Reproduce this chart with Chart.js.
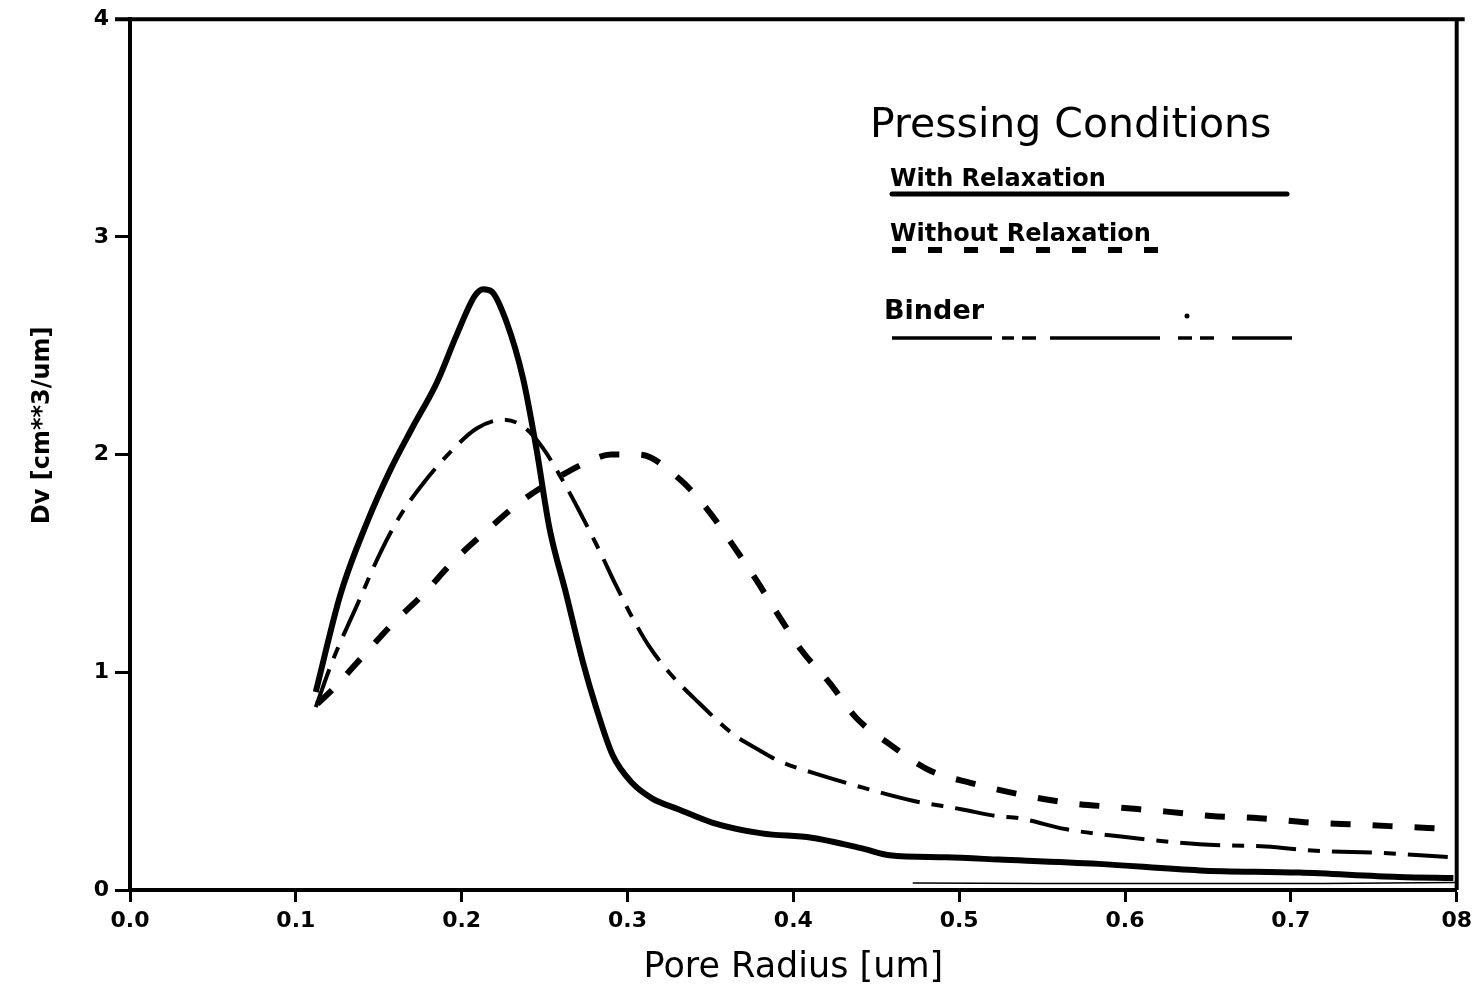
<!DOCTYPE html>
<html>
<head>
<meta charset="utf-8">
<script src="https://cdn.jsdelivr.net/npm/chart.js@4.4.0/dist/chart.umd.min.js"></script>
<style>
  body { margin: 0; background: #fff; }
  #wrap { width: 1478px; height: 993px; }
</style>
</head>
<body>
<div id="wrap"><canvas id="myChart" width="1478" height="993"></canvas></div>
<script>
// values
const xTickLabels = ['0.0', '0.1', '0.2', '0.3', '0.4', '0.5', '0.6', '0.7', '08'];
const yTickLabels = ['0', '1', '2', '3', '4'];

const withX = [0.112, 0.127, 0.143, 0.157, 0.170, 0.185, 0.197, 0.208, 0.213, 0.218, 0.227, 0.237, 0.245, 0.253, 0.263, 0.273, 0.281, 0.291, 0.303, 0.315, 0.331, 0.351, 0.381, 0.411, 0.442, 0.458, 0.492, 0.524, 0.584, 0.645, 0.705, 0.765, 0.798];
const withY = [0.91, 1.36, 1.69, 1.93, 2.12, 2.33, 2.55, 2.73, 2.76, 2.75, 2.61, 2.35, 2.03, 1.66, 1.36, 1.05, 0.84, 0.62, 0.49, 0.42, 0.37, 0.31, 0.26, 0.24, 0.19, 0.16, 0.15, 0.14, 0.12, 0.09, 0.08, 0.06, 0.055];

const withoutX = [0.113, 0.122, 0.140, 0.158, 0.177, 0.195, 0.215, 0.235, 0.257, 0.277, 0.290, 0.307, 0.331, 0.348, 0.363, 0.378, 0.392, 0.405, 0.422, 0.438, 0.458, 0.482, 0.508, 0.536, 0.566, 0.595, 0.625, 0.652, 0.681, 0.711, 0.741, 0.769, 0.797];
const withoutY = [0.855, 0.92, 1.07, 1.22, 1.36, 1.51, 1.65, 1.78, 1.89, 1.97, 2.0, 2.0, 1.89, 1.75, 1.59, 1.42, 1.25, 1.10, 0.95, 0.79, 0.67, 0.55, 0.49, 0.44, 0.40, 0.38, 0.36, 0.34, 0.33, 0.31, 0.30, 0.29, 0.28];

const binderX = [0.112, 0.122, 0.137, 0.151, 0.163, 0.177, 0.193, 0.209, 0.225, 0.237, 0.249, 0.261, 0.271, 0.283, 0.293, 0.303, 0.313, 0.325, 0.343, 0.363, 0.380, 0.392, 0.411, 0.442, 0.472, 0.502, 0.522, 0.536, 0.564, 0.604, 0.645, 0.685, 0.715, 0.755, 0.797];
const binderY = [0.84, 1.05, 1.31, 1.55, 1.72, 1.87, 2.01, 2.12, 2.16, 2.13, 2.03, 1.88, 1.74, 1.56, 1.40, 1.25, 1.12, 1.00, 0.86, 0.72, 0.64, 0.59, 0.54, 0.47, 0.41, 0.37, 0.34, 0.33, 0.28, 0.24, 0.21, 0.20, 0.18, 0.17, 0.15];

// faint trace lying just above the x axis on the right
const traceX = [0.472, 0.55, 0.65, 0.72, 0.8];
const traceY = [0.032, 0.03, 0.03, 0.03, 0.035];

const pts = (xs, ys) => xs.map((x, i) => ({ x: x, y: ys[i] }));

const FONT = "'DejaVu Sans', sans-serif";

const legendPlugin = {
  id: 'pressLegend',
  afterDraw(chart) {
    const ctx = chart.ctx;
    const a = chart.chartArea;
    ctx.save();
    // frame: top and right edges
    ctx.strokeStyle = '#000';
    ctx.lineWidth = 4;
    ctx.beginPath();
    ctx.moveTo(a.left - 15, a.top);
    ctx.lineTo(a.right + 8, a.top);
    ctx.moveTo(a.right, a.top);
    ctx.lineTo(a.right, a.bottom);
    ctx.stroke();

    ctx.fillStyle = '#000';
    ctx.textBaseline = 'alphabetic';
    ctx.font = '41px ' + FONT;
    ctx.fillText('Pressing Conditions', 870, 137);

    const ds = chart.data.datasets;
    const rows = [
      { text: ds[0].label, size: 24, ty: 186, ly: 194, x2: 1287, w: 5, dash: [] },
      { text: ds[1].label, size: 24, ty: 241, ly: 250, x2: 1158, w: 6, dash: [14, 22] },
      { text: ds[2].label, size: 27, ty: 319, ly: 338, x2: 1293, w: 3.5, dash: [100, 10, 12, 8, 14, 14, 110, 18, 14, 8, 14, 18, 60] }
    ];
    rows.forEach(r => {
      ctx.font = 'bold ' + r.size + 'px ' + FONT;
      ctx.fillText(r.text, r.text === 'Binder' ? 884 : 890, r.ty);
      ctx.lineWidth = r.w;
      ctx.setLineDash(r.dash);
      ctx.lineCap = r.dash.length ? 'butt' : 'round';
      ctx.beginPath();
      ctx.moveTo(892, r.ly);
      ctx.lineTo(r.x2, r.ly);
      ctx.stroke();
    });
    ctx.setLineDash([]);
    ctx.beginPath();
    ctx.arc(1187, 316, 2.5, 0, Math.PI * 2);
    ctx.fill();
    ctx.restore();
  }
};

new Chart(document.getElementById('myChart').getContext('2d'), {
  type: 'line',
  data: {
    datasets: [
      {
        label: 'With Relaxation',
        data: pts(withX, withY),
        borderColor: '#000',
        borderWidth: 6,
        cubicInterpolationMode: 'monotone',
        pointRadius: 0,
        fill: false
      },
      {
        label: 'Without Relaxation',
        data: pts(withoutX, withoutY),
        borderColor: '#000',
        borderWidth: 6,
        borderDash: [20, 22],
        borderCapStyle: 'butt',
        cubicInterpolationMode: 'monotone',
        pointRadius: 0,
        fill: false
      },
      {
        label: 'Binder',
        data: pts(binderX, binderY),
        borderColor: '#000',
        borderWidth: 4,
        borderDash: [40, 12, 12, 12],
        borderCapStyle: 'butt',
        cubicInterpolationMode: 'monotone',
        pointRadius: 0,
        fill: false
      },
      {
        label: 'trace',
        data: pts(traceX, traceY),
        borderColor: '#000',
        borderWidth: 1.5,
        pointRadius: 0,
        fill: false
      }
    ]
  },
  options: {
    responsive: false,
    animation: false,
    layout: { padding: { top: 15, right: 20, left: 0, bottom: 0 } },
    plugins: { legend: { display: false }, tooltip: { enabled: false } },
    scales: {
      x: {
        type: 'linear',
        min: 0,
        max: 0.8,
        ticks: {
          stepSize: 0.1,
          color: '#000',
          font: { family: FONT, size: 22, weight: 'bold' },
          padding: 6,
          maxRotation: 0,
          callback: (v, i) => xTickLabels[i]
        },
        grid: { drawOnChartArea: false, drawTicks: true, tickLength: 12, tickWidth: 3, color: '#000' },
        border: { display: true, width: 4, color: '#000' },
        title: {
          display: true,
          text: 'Pore Radius [um]',
          color: '#000',
          font: { family: FONT, size: 35 },
          padding: { top: 0 }
        },
        afterFit: s => { s.height = 103; }
      },
      y: {
        min: 0,
        max: 4,
        ticks: {
          stepSize: 1,
          color: '#000',
          font: { family: FONT, size: 22, weight: 'bold' },
          padding: 6,
          callback: (v, i) => yTickLabels[i]
        },
        grid: { drawOnChartArea: false, drawTicks: true, tickLength: 15, tickWidth: 3, color: '#000' },
        border: { display: true, width: 4, color: '#000' },
        title: {
          display: true,
          text: '       Dv [cm**3/um]',
          color: '#000',
          font: { family: FONT, size: 24, weight: 'bold' },
          padding: { top: 28 }
        },
        afterFit: s => { s.width = 130; }
      }
    }
  },
  plugins: [legendPlugin]
});
</script>
</body>
</html>
